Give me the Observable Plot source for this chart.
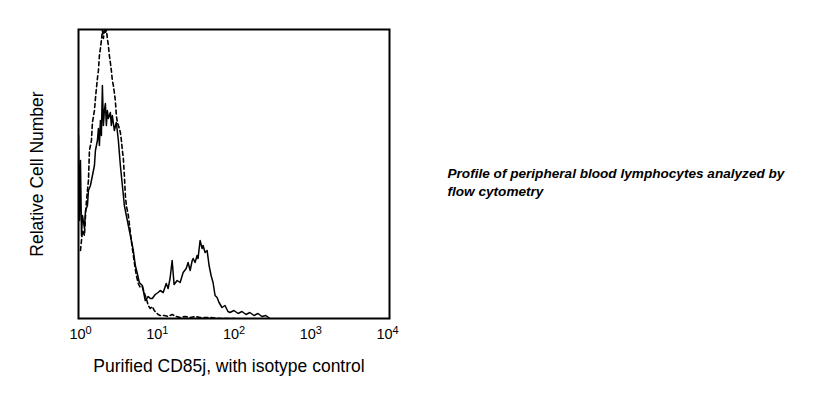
<!DOCTYPE html>
<html>
<head>
<meta charset="utf-8">
<script src="https://cdn.jsdelivr.net/npm/d3@7"></script>
<script src="https://cdn.jsdelivr.net/npm/@observablehq/plot@0.6"></script>
<style>
  html, body { margin: 0; padding: 0; background: #fff; }
  #chart svg { display: block; }
</style>
</head>
<body>
<div id="chart"></div>
<script>
// Fluorescence intensity (log scale) vs relative cell count
const stainedIntensity = [1.000,1.030,1.061,1.094,1.127,1.196,1.233,1.308,1.348,1.431,1.519,1.613,1.662,1.764,1.818,1.873,1.930,1.988,2.048,2.110,2.174,2.240,2.308,2.378,2.450,2.601,2.680,2.761,2.931,3.112,3.307,3.512,3.73,3.96,4.20,4.46,4.74,5.03,5.18,5.50,5.84,6.20,6.78,7.41,8.11,8.61,9.14,10.0,10.9,11.6,12.7,13.9,14.7,15.6,16.6,17.6,19.3,21.1,23.1,25.3,26.8,28.5,30.3,31.2,33.0,35.1,36.1,38.4,40.8,42.0,44.6,47.4,50.3,53.4,56.6,60.2,63.9,67.8,74.1,81.0,88.6,94.1,106,120,135,152,171,193,218,245,276,311];
const stainedCount = [183,98,158,83,103,90,108,113,128,133,143,153,168,178,190,173,198,183,233,193,208,215,193,208,200,206,193,203,188,196,178,153,133,113,103,93,83,73,68,53,45,36,33,18,22,20,20,24,26,28,26,35,30,40,58,34,38,36,46,50,56,48,58,60,56,63,60,78,70,73,66,68,53,43,36,23,21,16,11,13,7,6,8,5,7,4,6,3,5,2,3,0];

const isotypeIntensity = [1.061,1.127,1.196,1.233,1.270,1.348,1.389,1.474,1.519,1.613,1.662,1.712,1.764,1.818,1.873,1.930,1.988,2.048,2.110,2.174,2.240,2.308,2.378,2.450,2.524,2.601,2.680,2.761,2.845,2.931,3.020,3.112,3.21,3.307,3.41,3.512,3.62,3.73,3.84,3.96,4.08,4.20,4.46,4.74,5.03,5.34,5.67,6.01,6.38,6.78,7.19,7.64,8.11,8.61,9.14,9.70,10.3,10.9,11.6,13.1,14.7,16.6,18.7,21.1,24.5,28.5,33.0,38.4,51.8,69.9,109];
const isotypeCount = [68,88,83,103,118,138,168,178,196,208,220,230,240,248,263,270,278,288,280,289,286,289,280,273,263,256,248,238,233,226,218,203,196,193,190,186,178,168,160,143,123,113,103,86,70,56,43,35,31,32,26,20,13,10,12,8,6,4,3,3,2,4,2,1,2,1,2,1,1,0,0];

const xTicks = [1, 10, 100, 1000, 10000];
const xTickBase = "10";
const xTickExponents = ["0", "1", "2", "3", "4"];
const xLabel = "Purified CD85j, with isotype control";
const yLabel = "Relative Cell Number";
const note = "Profile of peripheral blood lymphocytes analyzed by\nflow cytometry";

const stained = stainedIntensity.map((v, i) => ({x: v, y: stainedCount[i]}));
const isotype = isotypeIntensity.map((v, i) => ({x: v, y: isotypeCount[i]}));
const tickRows = xTicks.map((v, i) => ({x: v, label: xTickBase + "|" + xTickExponents[i]}));

const chart = Plot.plot({
  width: 819,
  height: 393,
  marginLeft: 78,
  marginRight: 430,
  marginTop: 29,
  marginBottom: 75,
  style: {fontFamily: "'Liberation Sans', Arial, sans-serif", color: "#000", background: "#fff"},
  x: {type: "log", domain: [1, 10000], range: [78, 385], axis: null},
  y: {domain: [0, 289], axis: null},
  marks: [
    Plot.line(isotype, {x: "x", y: "y", stroke: "#000", strokeWidth: 1.6, strokeDasharray: "4,3", clip: true}),
    Plot.line(stained, {x: "x", y: "y", stroke: "#000", strokeWidth: 1.5, clip: true}),
    Plot.frame({stroke: "#000", strokeWidth: 2}),
    Plot.text(tickRows, {x: "x", text: "label", frameAnchor: "bottom", lineAnchor: "top", dx: 2, dy: 10,
      fontSize: 14.5, fill: "#000", className: "xtick-labels"}),
    Plot.text([xLabel], {frameAnchor: "bottom", lineAnchor: "middle", dx: -5, dy: 48, fontSize: 17.5, fill: "#000"}),
    Plot.text([yLabel], {frameAnchor: "left", textAnchor: "middle", lineAnchor: "middle", rotate: -90, dx: -41, dy: 0, fontSize: 17.5, fill: "#000"}),
    Plot.text([note], {frameAnchor: "top-left", textAnchor: "start", lineAnchor: "top", dx: 369, dy: 136,
      fontSize: 13.6, fontWeight: "bold", fontStyle: "italic", lineHeight: 1.32, fill: "#000"})
  ]
});

// turn "10|n" into 10 with a raised exponent
d3.select(chart).selectAll("g.xtick-labels text").each(function() {
  const t = d3.select(this);
  const [base, exp] = t.text().split("|");
  t.text(null);
  t.append("tspan").text(base);
  t.append("tspan").attr("dy", "-0.45em").attr("font-size", "11px").text(exp);
});

document.getElementById("chart").appendChild(chart);
</script>
</body>
</html>
